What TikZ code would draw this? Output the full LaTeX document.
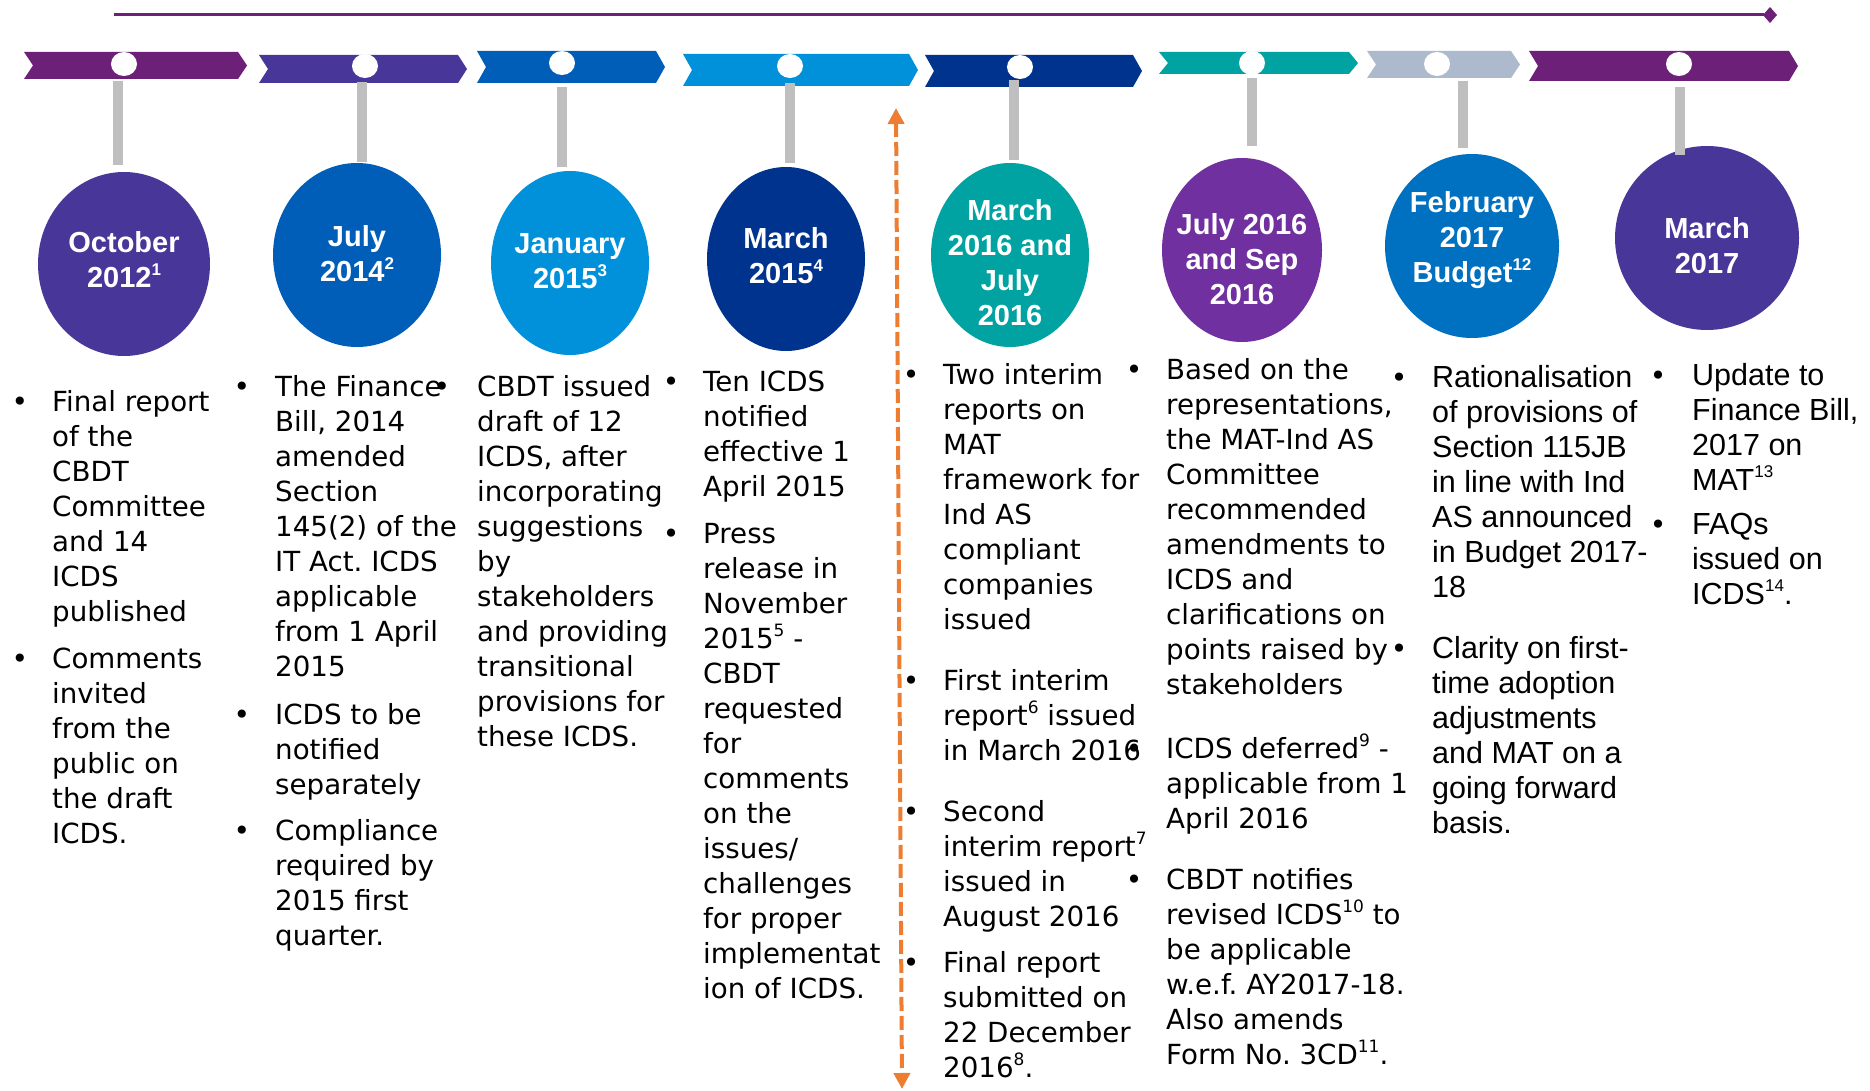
\documentclass[tikz,border=0pt]{standalone}
\usepackage{fontspec}
\setmainfont{DejaVu Sans}
\newfontfamily\arialfont{Liberation Sans}
\usetikzlibrary{shapes.geometric,arrows.meta}
\frenchspacing

\definecolor{kplum}{HTML}{6D2077}
\definecolor{kindigo}{HTML}{483698}
\definecolor{kblue}{HTML}{005EB8}
\definecolor{ksky}{HTML}{0091DA}
\definecolor{knavy}{HTML}{00338D}
\definecolor{kteal}{HTML}{00A3A1}
\definecolor{kgreyblue}{HTML}{ADB9CC}
\definecolor{kviolet}{HTML}{7030A0}
\definecolor{kmid}{HTML}{0070C0}
\definecolor{stemgrey}{HTML}{BFBFBF}
\definecolor{korange}{HTML}{ED7D31}

% raised footnote number
\newcommand{\fnmark}[1]{\raisebox{0.42em}{\fontsize{17}{17}\selectfont #1}}
% arrow-shaped band segment: left, right, top, bottom, colour
\newcommand{\tlband}[5]{%
  \fill[#5] (#1,#3) -- ({#2-9},#3) -- (#2,{(#3+#4)/2}) -- ({#2-9},#4)
    -- (#1,#4) -- ({#1+9},{(#3+#4)/2}) -- cycle;}

\begin{document}
\frenchspacing
\begin{tikzpicture}[x=1pt,y=-1pt,
  dot/.style={ellipse,fill=white,minimum width=26pt,minimum height=24pt,inner sep=0pt},
  disc/.style={ellipse,fill=#1,inner sep=0pt},
  stem/.style={draw=stemgrey,line width=10pt},
  datetext/.style={font=\arialfont\bfseries\fontsize{29}{35}\selectfont,text=white,align=center,inner sep=0pt},
  bodytext/.style={font=\fontsize{27.7}{35}\selectfont\frenchspacing,align=left,anchor=north west,inner sep=0pt},
  bodyarial/.style={font=\arialfont\fontsize{30.5}{35}\selectfont\frenchspacing,align=left,anchor=north west,inner sep=0pt},
  bulletmark/.style={font=\fontsize{28}{35}\selectfont,anchor=base,inner sep=0pt},
  orangearrow/.style={draw=korange,line width=4pt,dash pattern=on 14pt off 5pt,
    {Triangle[length=16pt,width=16pt]}-{Triangle[length=16pt,width=16pt]}}
]
\useasboundingbox (0,0) rectangle (1870,1091);

% time axis with diamond end
\coordinate (axA) at (114,15);
\coordinate (axB) at (1764,15);
\draw[kplum,line width=3pt] (axA) -- (axB);
\fill[kplum] (1770,7) -- (1777,15) -- (1770,23) -- (1763,15) -- cycle;

% band segments
\tlband{24}{247}{52}{79}{kplum}
\tlband{259}{467}{55}{83}{kindigo}
\tlband{477}{665}{51}{83}{kblue}
\tlband{683}{918}{54}{86}{ksky}
\tlband{925}{1142}{55}{87}{knavy}
\tlband{1159}{1358}{52}{74}{kteal}
\tlband{1367}{1520}{51}{78}{kgreyblue}
\tlband{1529}{1798}{51}{81}{kplum}

% markers on the band
\node[dot] (d1) at (124,64) {};
\node[dot] (d2) at (365,66) {};
\node[dot] (d3) at (562,63) {};
\node[dot] (d4) at (790,66) {};
\node[dot] (d5) at (1020,67) {};
\node[dot] (d6) at (1252,63) {};
\node[dot] (d7) at (1437,64) {};
\node[dot] (d8) at (1679,64) {};

% date discs
\node[disc=kindigo,minimum width=172pt,minimum height=184pt] (c1) at (124,264) {};
\node[disc=kblue,minimum width=168pt,minimum height=184pt] (c2) at (357,255) {};
\node[disc=ksky,minimum width=158pt,minimum height=184pt] (c3) at (570,263) {};
\node[disc=knavy,minimum width=158pt,minimum height=184pt] (c4) at (786,259) {};
\node[disc=kteal,minimum width=158pt,minimum height=184pt] (c5) at (1010,255) {};
\node[disc=kviolet,minimum width=160pt,minimum height=184pt] (c6) at (1242,250) {};
\node[disc=kmid,minimum width=174pt,minimum height=184pt] (c7) at (1472,246) {};
\node[disc=kindigo,minimum width=184pt,minimum height=184pt] (c8) at (1707,238) {};

% stems from band to disc
\coordinate (s1a) at (118,81);   \coordinate (s1b) at (118,165);
\coordinate (s2a) at (362,82);   \coordinate (s2b) at (362,162);
\coordinate (s3a) at (562,87);   \coordinate (s3b) at (562,167);
\coordinate (s4a) at (790,83);   \coordinate (s4b) at (790,163);
\coordinate (s5a) at (1014,80);  \coordinate (s5b) at (1014,160);
\coordinate (s6a) at (1252,78);  \coordinate (s6b) at (1252,146);
\coordinate (s7a) at (1463,81);  \coordinate (s7b) at (1463,148);
\coordinate (s8a) at (1680,87);  \coordinate (s8b) at (1680,155);
\foreach \i in {1,...,8}{\draw[stem] (s\i a) -- (s\i b);}

% disc labels
\node[datetext] (t1) at (124,260) {October\\2012\fnmark{1}};
\node[datetext] (t2) at (357,254) {July\\2014\fnmark{2}};
\node[datetext] (t3) at (570,261) {January\\2015\fnmark{3}};
\node[datetext] (t4) at (786,256) {March\\2015\fnmark{4}};
\node[datetext] (t5) at (1010,263) {March\\2016 and\\July\\2016};
\node[datetext] (t6) at (1242,259) {July 2016\\and Sep\\2016};
\node[datetext] (t7) at (1472,240) {February\\2017\\Budget\fnmark{12}};
\node[datetext] (t8) at (1707,246) {March\\2017};

% column 1
\node[bulletmark] (b11) at (20,411) {•};
\node[bodytext] (p11) at (52,{411-24.5}) {\strut Final report\\of the\\CBDT\\Committee\\and 14\\ICDS\\published};
\node[bulletmark] (b12) at (20,668) {•};
\node[bodytext] (p12) at (52,{668-24.5}) {\strut Comments\\invited\\from the\\public on\\the draft\\ICDS.};

% column 2
\node[bulletmark] (b21) at (242,396) {•};
\node[bodytext] (p21) at (275,{396-24.5}) {\strut The Finance\\Bill, 2014\\amended\\Section\\145(2) of the\\IT Act. ICDS\\applicable\\from 1 April\\2015};
\node[bulletmark] (b22) at (242,724) {•};
\node[bodytext] (p22) at (275,{724-24.5}) {\strut ICDS to be\\notified\\separately};
\node[bulletmark] (b23) at (242,840) {•};
\node[bodytext] (p23) at (275,{840-24.5}) {\strut Compliance\\required by\\2015 first\\quarter.};

% column 3
\node[bodytext] (p31) at (477,{396-24.5}) {\strut CBDT issued\\draft of 12\\ICDS, after\\incorporating\\suggestions\\by\\stakeholders\\and providing\\transitional\\provisions for\\these ICDS.};
\node[bulletmark] (b31) at (442,396) {•};

% column 4
\node[bulletmark] (b41) at (671,391) {•};
\node[bodytext] (p41) at (703,{391-24.5}) {\strut Ten ICDS\\notified\\effective 1\\April 2015};
\node[bulletmark] (b42) at (671,543) {•};
\node[bodytext] (p42) at (703,{543-24.5}) {\strut Press\\release in\\November\\2015\fnmark{5} -\\CBDT\\requested\\for\\comments\\on the\\issues/\\challenges\\for proper\\implementat\\ion of ICDS.};

% column 5
\node[bulletmark] (b51) at (911,384) {•};
\node[bodytext] (p51) at (943,{384-24.5}) {\strut Two interim\\reports on\\MAT\\framework for\\Ind AS\\compliant\\companies\\issued};
\node[bulletmark] (b52) at (911,690) {•};
\node[bodytext] (p52) at (943,{690-24.5}) {\strut First interim\\report\fnmark{6} issued\\in March 2016};
\node[bulletmark] (b53) at (911,821) {•};
\node[bodytext] (p53) at (943,{821-24.5}) {\strut Second\\interim report\fnmark{7}\\issued in\\August 2016};
\node[bulletmark] (b54) at (911,972) {•};
\node[bodytext] (p54) at (943,{972-24.5}) {\strut Final report\\submitted on\\22 December\\2016\fnmark{8}.};

% column 6
\node[bodytext] (p61) at (1166,{379-24.5}) {\strut Based on the\\representations,\\the MAT-Ind AS\\Committee\\recommended\\amendments to\\ICDS and\\clarifications on\\points raised by\\stakeholders};
\node[bulletmark] (b61) at (1134,379) {•};
\node[bodytext] (p62) at (1166,{758-24.5}) {\strut ICDS deferred\fnmark{9} -\\applicable from 1\\April 2016};
\node[bulletmark] (b62) at (1134,758) {•};
\node[bodytext] (p63) at (1166,{889-24.5}) {\strut CBDT notifies\\revised ICDS\fnmark{10} to\\be applicable\\w.e.f. AY2017-18.\\Also amends\\Form No. 3CD\fnmark{11}.};
\node[bulletmark] (b63) at (1134,889) {•};

% column 7
\node[bulletmark] (b71) at (1399,387) {•};
\node[bodyarial] (p71) at (1432,{387-24.5}) {\strut Rationalisation\\of provisions of\\Section 115JB\\in line with Ind\\AS announced\\in Budget 2017-\\18};
\node[bulletmark] (b72) at (1399,658) {•};
\node[bodyarial] (p72) at (1432,{658-24.5}) {\strut Clarity on first-\\time adoption\\adjustments\\and MAT on a\\going forward\\basis.};

% column 8
\node[bulletmark] (b81) at (1658,385) {•};
\node[bodyarial] (p81) at (1692,{385-24.5}) {\strut Update to\\Finance Bill,\\2017 on\\MAT\fnmark{13}};
\node[bulletmark] (b82) at (1658,534) {•};
\node[bodyarial] (p82) at (1692,{534-24.5}) {\strut FAQs\\issued on\\ICDS\fnmark{14}.};

% dividing arrow
\coordinate (ar1) at (896,108);
\coordinate (ar2) at (902,1089);
\draw[orangearrow] (ar1) -- (ar2);
\end{tikzpicture}
\end{document}
